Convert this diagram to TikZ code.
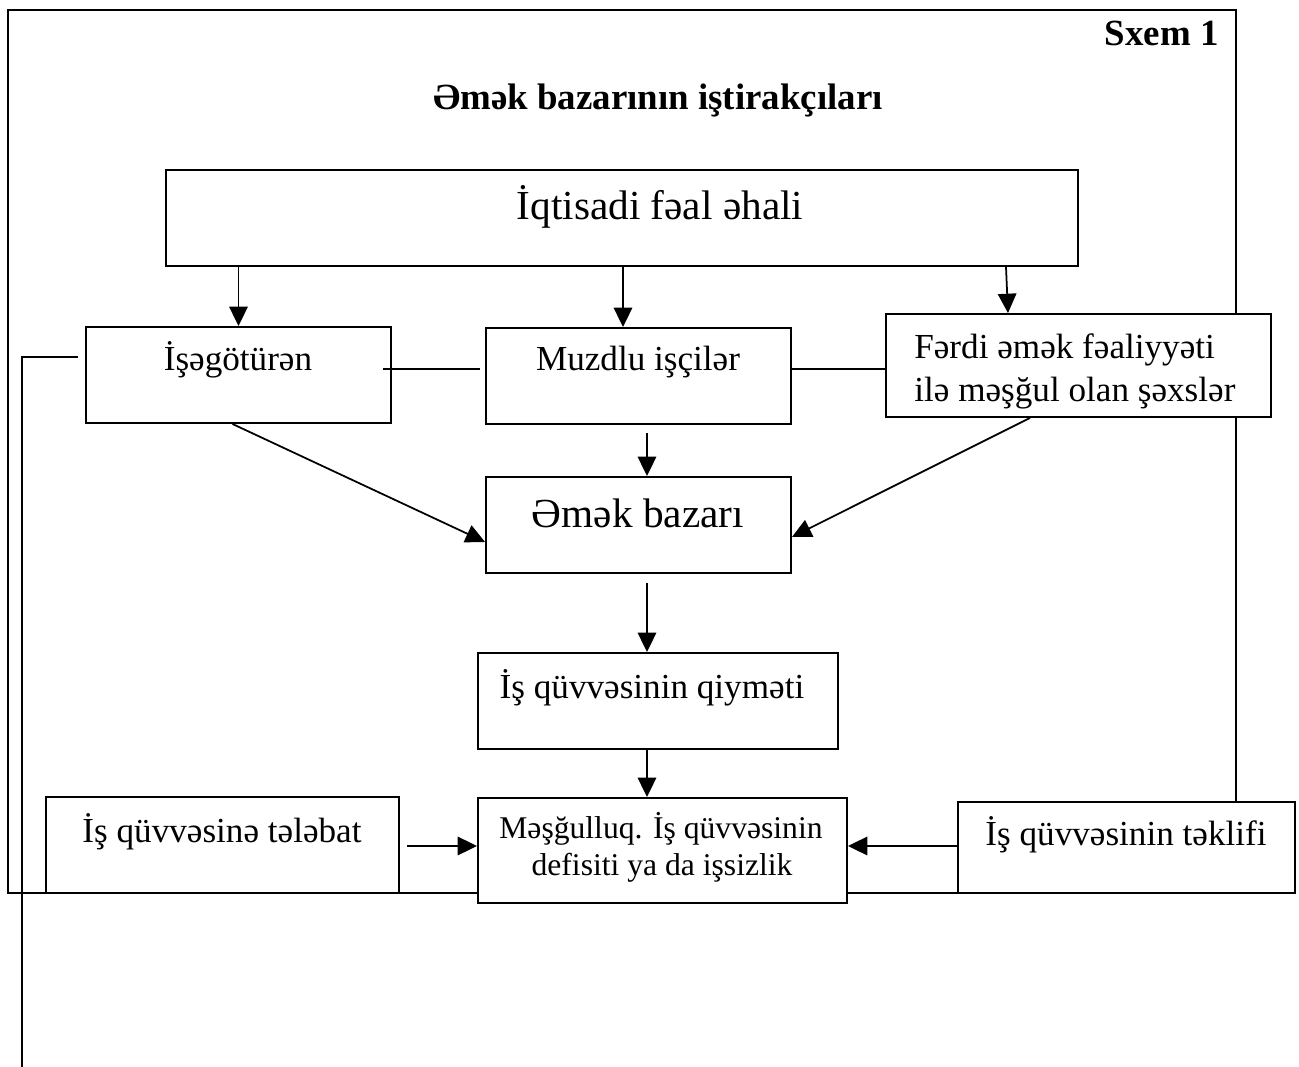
\documentclass[tikz,border=0pt]{standalone}
\usepackage{fontspec}
\setmainfont{Liberation Serif}
\usetikzlibrary{arrows.meta,fit,calc}
\begin{document}
\begin{tikzpicture}[x=0.02cm,y=-0.02cm,
  box/.style={draw,line width=1.1pt,fill=white,inner sep=0pt},
  frame/.style={draw,line width=1.6pt,inner sep=0pt},
  conn/.style={line width=1pt},
  arr/.style={line width=1pt,-{Triangle[length=11pt,width=10.5pt]}},
  big/.style={font=\fontsize{23.5}{28}\selectfont,inner sep=0pt,anchor=base},
  med/.style={font=\fontsize{20}{24}\selectfont,inner sep=0pt,anchor=base},
  sml/.style={font=\fontsize{18}{21}\selectfont,inner sep=0pt,anchor=base},
  ttl/.style={font=\fontsize{21}{25}\selectfont\bfseries,inner sep=0pt,anchor=base}]
\useasboundingbox (0,0) rectangle (1299,1067);
\node[frame,fit={(8,10) (1236,893)}] (frame) {};
\coordinate (lend) at (22,1067);
% boxes
\node[box,fit={(166,170) (1078,266)}] (iqt) {};
\node[box,fit={(86,327) (391,423)}] (isg) {};
\node[box,fit={(486,328) (791,424)}] (muzd) {};
\node[box,fit={(886,314) (1271,417)}] (ferdi) {};
\node[box,fit={(486,477) (791,573)}] (emek) {};
\node[box,fit={(478,653) (838,749)}] (qiy) {};
\node[box,fit={(478,798) (847,903)}] (mesg) {};
\node[box,fit={(46,797) (399,893)}] (tel) {};
\node[box,fit={(958,802) (1295,893)}] (tek) {};
% texts
\node[ttl] (title) at (658,110) {Əmək bazarının iştirakçıları};
\node[ttl,anchor=base east] (sxem) at (1219,46) {Sxem 1};
\node[big] (t_iqt) at (660,220) {İqtisadi fəal əhali};
\node[med] (t_isg) at (238,371) {İşəgötürən};
\node[med] (t_muzd) at (638,371) {Muzdlu işçilər};
\node[med,anchor=base west] (t_f1) at (914,359) {Fərdi əmək fəaliyyəti};
\node[med,anchor=base west] (t_f2) at (914,402) {ilə məşğul olan şəxslər};
\node[big] (t_emek) at (638,528) {Əmək bazarı};
\node[med] (t_qiy) at (652,698) {İş qüvvəsinin qiyməti};
\node[sml] (t_m1) at (661,838) {Məşğulluq. İş qüvvəsinin};
\node[sml] (t_m2) at (662,875) {defisiti ya da işsizlik};
\node[med] (t_tel) at (222,842) {İş qüvvəsinə tələbat};
\node[med] (t_tek) at (1126,845) {İş qüvvəsinin təklifi};
% connectors
\draw[arr] (iqt.south -| isg.north) -- (isg.north);
\draw[arr] (iqt.south -| 623,0) -- (muzd.north -| 623,0);
\draw[arr] (iqt.south -| 1006,0) -- (ferdi.north -| 1008,0);
\draw[conn] (isg.east) ++(-9,-6) -- ++(97,0);
\draw[conn] (muzd.east |- 0,369) -- (ferdi.west |- 0,369);
\draw[conn] (isg.west) ++(-7,-18) -| (lend);
\draw[arr] (isg.south) ++(-6,0) -- ($(emek.west)+(0,17)$);
\draw[arr] ($(muzd.south -| 647,0)+(0,8)$) -- (emek.north -| 647,0);
\draw[arr] (ferdi.south -| 1030,0) -- ($(emek.east)+(0,12)$);
\draw[arr] ($(emek.south -| 647,0)+(0,9)$) -- (qiy.north -| 647,0);
\draw[arr] (qiy.south -| 647,0) -- (mesg.north -| 647,0);
\draw[arr] ($(tel.east)+(7,1)$) -- (mesg.west |- 0,846);
\draw[arr] (tek.west |- 0,846) -- (mesg.east |- 0,846);
\end{tikzpicture}
\end{document}
